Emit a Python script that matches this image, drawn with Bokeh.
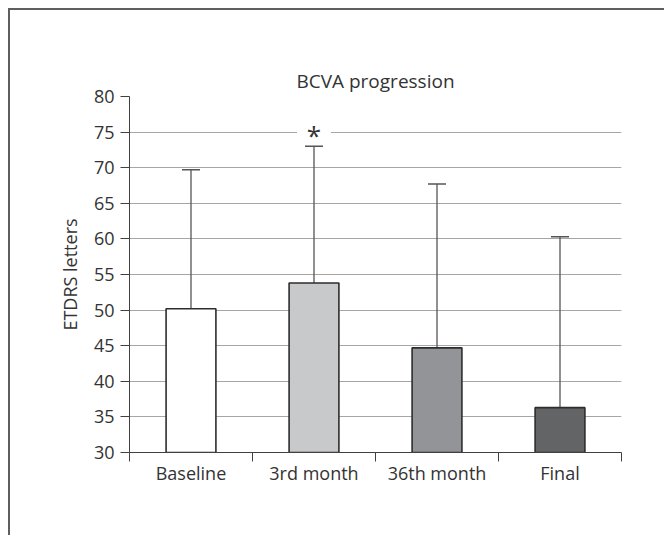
from bokeh.plotting import figure
from bokeh.models import Range1d, FixedTicker, Whisker, TeeHead, ColumnDataSource
from bokeh.embed import file_html
from bokeh.resources import INLINE
from bokeh.core.properties import value

# ---- data ----
categories = ["Baseline", "3rd month", "36th month", "Final"]
means = [50.2, 53.8, 44.7, 36.3]
upper_err = [69.7, 73.0, 67.7, 60.3]
bar_colors = ["#ffffff", "#c8c9cb", "#939497", "#636466"]
y_ticks = [30, 35, 40, 45, 50, 55, 60, 65, 70, 75, 80]
y_min, y_max = 30, 80
sig_category = "3rd month"
sig_y = 75.2
title_text = "BCVA progression"
y_label = "ETDRS letters"

FONT = "Open Sans"
TXT = "#333333"

xs = [i + 0.5 for i in range(len(categories))]
bounds = [float(i) for i in range(len(categories) + 1)]

src = ColumnDataSource(dict(x=xs, top=means, upper=upper_err, color=bar_colors))

p = figure(width=656, height=527, x_range=Range1d(0, len(categories)),
           y_range=Range1d(y_min, y_max), output_backend="svg",
           toolbar_location=None, min_border_left=119, min_border_right=45,
           min_border_top=86, min_border_bottom=85, title=title_text)
p.styles = {"border-top": "2px solid #5e5e5e", "border-left": "2px solid #5e5e5e",
            "margin-top": "8px", "margin-left": "8px"}
p.outline_line_color = None
p.background_fill_color = "white"
p.border_fill_color = "white"

p.title.align = "center"
p.title.text_font = FONT
p.title.text_font_size = "19px"
p.title.text_font_style = "normal"
p.title.text_color = TXT
p.title.standoff = 5

p.vbar(x="x", top="top", bottom=y_min, width=0.405, fill_color="color",
       line_color="#2d2d2d", line_width=1.6, source=src)

wh = Whisker(base="x", upper="upper", lower="top", source=src, dimension="height",
             line_color="#555555", line_width=1.3,
             upper_head=TeeHead(size=18, line_color="#555555", line_width=1.5),
             lower_head=None)
p.add_layout(wh)

# significance marker
sig_x = xs[categories.index(sig_category)]
p.rect(x=[sig_x], y=[sig_y], width=34, height=16, width_units="screen",
       height_units="screen", fill_color="white", line_color=None)
p.text(x=[sig_x], y=[sig_y], text=["*"], text_align="center", text_baseline="middle",
       text_font=value(FONT), text_font_size="26px", text_color=TXT, y_offset=4)

# y axis
p.yaxis.ticker = FixedTicker(ticks=y_ticks)
p.yaxis.minor_tick_line_color = None
p.yaxis.major_tick_out = 9
p.yaxis.major_tick_in = 0
p.yaxis.axis_line_color = "#404040"
p.yaxis.major_tick_line_color = "#404040"
p.yaxis.major_label_text_font = FONT
p.yaxis.major_label_text_font_size = "18px"
p.yaxis.major_label_text_color = TXT
p.yaxis.major_label_standoff = 6
p.yaxis.axis_label = y_label
p.yaxis.axis_label_text_font = FONT
p.yaxis.axis_label_text_font_size = "18px"
p.yaxis.axis_label_text_font_style = "normal"
p.yaxis.axis_label_text_color = TXT
p.yaxis.axis_label_standoff = 9

# x axis
p.xaxis.ticker = FixedTicker(ticks=xs, minor_ticks=bounds)
p.xaxis.major_label_overrides = {x: c for x, c in zip(xs, categories)}
p.xaxis.major_tick_out = 0
p.xaxis.major_tick_in = 0
p.xaxis.minor_tick_out = 9
p.xaxis.minor_tick_in = 0
p.xaxis.minor_tick_line_color = "#404040"
p.xaxis.axis_line_color = "#404040"
p.xaxis.major_label_text_font = FONT
p.xaxis.major_label_text_font_size = "18px"
p.xaxis.major_label_text_color = TXT
p.xaxis.major_label_standoff = -1

p.xgrid.visible = False
p.ygrid.ticker = FixedTicker(ticks=y_ticks)
p.ygrid.grid_line_color = "#a6a6a6"
p.ygrid.grid_line_width = 1.2

open("out.html", "w").write(file_html(p, INLINE))
